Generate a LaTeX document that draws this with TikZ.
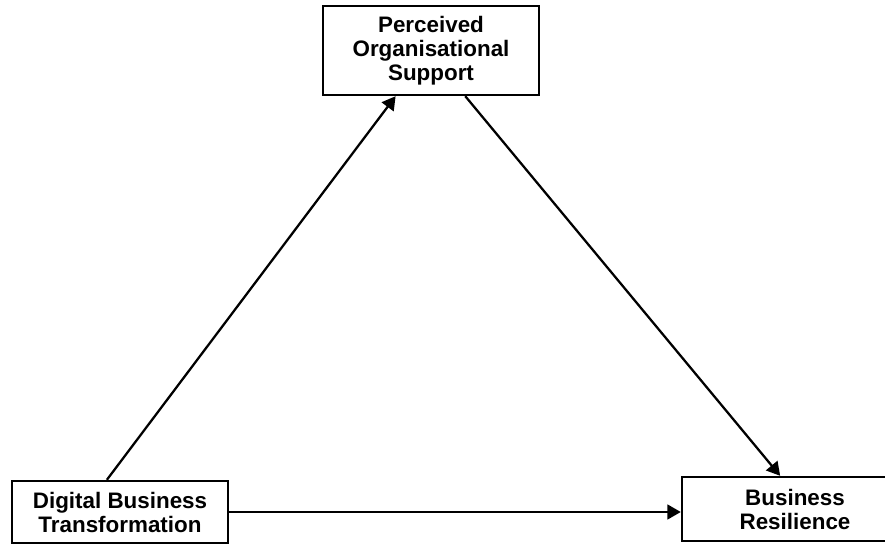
\documentclass[tikz,border=0pt]{standalone}
\usepackage{fontspec}
\setmainfont{Liberation Sans}
\usetikzlibrary{arrows.meta,calc,positioning}

\tikzset{
  varbox/.style={draw,line width=1.8pt,inner sep=0pt,align=center,
    font=\fontsize{16.8}{18}\selectfont\bfseries},
  path/.style={line width=1.7pt,-{Triangle[length=10pt,width=11pt]}}
}

\begin{document}
\begin{tikzpicture}[x=0.75pt,y=-0.75pt]
    \useasboundingbox (0,0) rectangle (885,545);
    %% the three constructs
    \node[varbox,minimum width=162pt,minimum height=66.75pt] (pos) at (431,50.5)
        {Perceived\\Organisational\\Support};
    \node[varbox,minimum width=162pt,minimum height=46.5pt] (dbt) at (120,512)
        {Digital Business\\Transformation};
    \node[varbox,minimum width=169.5pt,minimum height=48pt] (br) at (795,509)
        {Business\\Resilience};
    %% paths
    \draw[path] ($(dbt.north west)!0.44!(dbt.north east)$) -- ($(pos.south west)!0.338!(pos.south east)$);
    \draw[path] ($(pos.south west)!0.657!(pos.south east)$) -- ($(br.north west)!0.435!(br.north east)$);
    %
    \draw[path] (dbt.east) -- (dbt.east -| br.west);
\end{tikzpicture}
\end{document}
